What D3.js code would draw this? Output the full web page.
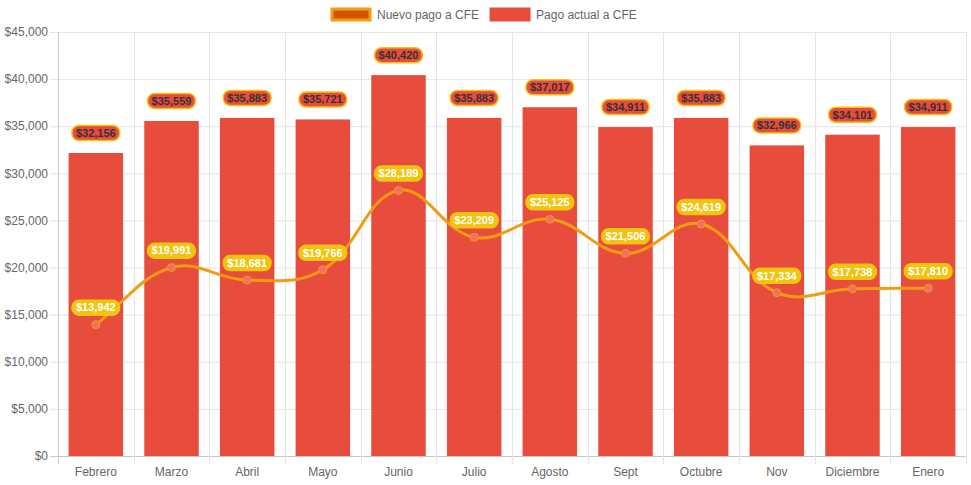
<!DOCTYPE html>
<html>
<head>
<meta charset="utf-8">
<script src="https://cdn.jsdelivr.net/npm/d3@7"></script>
<style>
  body { margin: 0; background: #fff; }
  svg { display: block; font-family: "Liberation Sans", Arial, sans-serif; }
</style>
</head>
<body>
<div id="chart"></div>
<script>
"use strict";

const months = ["Febrero", "Marzo", "Abril", "Mayo", "Junio", "Julio", "Agosto", "Sept", "Octubre", "Nov", "Diciembre", "Enero"];
const pagoActual = [32156, 35559, 35883, 35721, 40420, 35883, 37017, 34911, 35883, 32966, 34101, 34911];
const nuevoPago = [13942, 19991, 18681, 19766, 28189, 23209, 25125, 21506, 24619, 17334, 17738, 17810];
const yTicks = [0, 5000, 10000, 15000, 20000, 25000, 30000, 35000, 40000, 45000];
const legendItems = [
    { label: "Nuevo pago a CFE", fill: "#d35400", stroke: "#f39c12" },
    { label: "Pago actual a CFE", fill: "#e74c3c", stroke: "#e74c3c" }
];

const width = 971, height = 485;
const margin = { top: 32, right: 5, bottom: 29, left: 58 };

const svg = d3.select("#chart").append("svg")
    .attr("width", width)
    .attr("height", height);

const x = d3.scaleBand()
    .domain(months)
    .range([margin.left, width - margin.right]);

const y = d3.scaleLinear()
    .domain([0, 45000])
    .range([height - margin.bottom, margin.top]);

const money = v => "$" + d3.format(",")(v);

// grid lines
const grid = svg.append("g");
grid.selectAll("line.h").data(yTicks).join("line")
    .attr("x1", margin.left - 8).attr("x2", width - margin.right)
    .attr("y1", d => y(d) + 0.5).attr("y2", d => y(d) + 0.5)
    .attr("stroke", d => d === 0 ? "#c8c8c8" : "#e5e5e5");
const bounds = months.map(m => x(m)).concat([width - margin.right]);
grid.selectAll("line.v").data(bounds).join("line")
    .attr("x1", d => Math.round(d) + 0.5).attr("x2", d => Math.round(d) + 0.5)
    .attr("y1", margin.top).attr("y2", height - margin.bottom + 8)
    .attr("stroke", (d, i) => i === 0 ? "#c8c8c8" : "#e5e5e5");

// y axis labels
svg.append("g").selectAll("text").data(yTicks).join("text")
    .attr("x", margin.left - 10)
    .attr("y", d => y(d))
    .attr("dy", "0.35em")
    .attr("text-anchor", "end")
    .attr("font-size", 12)
    .attr("fill", "#666")
    .text(money);

// x axis labels
svg.append("g").selectAll("text").data(months).join("text")
    .attr("x", d => x(d) + x.bandwidth() / 2)
    .attr("y", height - margin.bottom + 20)
    .attr("text-anchor", "middle")
    .attr("font-size", 12)
    .attr("fill", "#666")
    .text(d => d);

// bars
const barW = x.bandwidth() * 0.72;
svg.append("g").selectAll("rect").data(pagoActual).join("rect")
    .attr("x", (d, i) => x(months[i]) + (x.bandwidth() - barW) / 2)
    .attr("y", d => y(d))
    .attr("width", barW)
    .attr("height", d => y(0) - y(d))
    .attr("fill", "#e74c3c");

// line (chart.js style spline, tension 0.4)
const pts = nuevoPago.map((v, i) => [x(months[i]) + x.bandwidth() / 2, y(v)]);
function splinePath(p, t) {
    const cp = p.map((cur, i) => {
        const prev = p[i - 1] || cur, next = p[i + 1] || cur;
        const d01 = Math.hypot(cur[0] - prev[0], cur[1] - prev[1]);
        const d12 = Math.hypot(next[0] - cur[0], next[1] - cur[1]);
        let s01 = d01 / (d01 + d12), s12 = d12 / (d01 + d12);
        if (isNaN(s01)) s01 = 0;
        if (isNaN(s12)) s12 = 0;
        const fa = t * s01, fb = t * s12;
        return {
            prev: [cur[0] - fa * (next[0] - prev[0]), cur[1] - fa * (next[1] - prev[1])],
            next: [cur[0] + fb * (next[0] - prev[0]), cur[1] + fb * (next[1] - prev[1])]
        };
    });
    const path = d3.path();
    path.moveTo(p[0][0], p[0][1]);
    for (let i = 1; i < p.length; i++) {
        path.bezierCurveTo(cp[i - 1].next[0], cp[i - 1].next[1], cp[i].prev[0], cp[i].prev[1], p[i][0], p[i][1]);
    }
    return path.toString();
}
svg.append("path")
    .attr("d", splinePath(pts, 0.4))
    .attr("fill", "none")
    .attr("stroke", "#f39c12")
    .attr("stroke-width", 3);

svg.append("g").selectAll("circle").data(pts).join("circle")
    .attr("cx", d => d[0]).attr("cy", d => d[1])
    .attr("r", 4)
    .attr("fill", "#f1706a")
    .attr("stroke", "#f39c12")
    .attr("stroke-width", 1);

// data labels
function addLabels(values, cyFn, bg, border, color) {
    const g = svg.append("g");
    values.forEach((v, i) => {
        const cx = x(months[i]) + x.bandwidth() / 2;
        const cy = cyFn(v);
        const lg = g.append("g");
        const txt = lg.append("text")
            .attr("x", cx).attr("y", cy)
            .attr("dy", "0.35em")
            .attr("text-anchor", "middle")
            .attr("font-size", 11)
            .attr("font-weight", "bold")
            .attr("fill", color)
            .text(money(v));
        const w = txt.node().getComputedTextLength() + 8;
        const h = 15;
        lg.insert("rect", "text")
            .attr("x", cx - w / 2).attr("y", cy - h / 2)
            .attr("width", w).attr("height", h)
            .attr("rx", 7).attr("ry", 7)
            .attr("fill", bg)
            .attr("stroke", border)
            .attr("stroke-width", 1.5);
    });
}
addLabels(pagoActual, v => y(v) - 20, "#e74c3c", "#f1c40f", "#333");
addLabels(nuevoPago, v => y(v) - 17, "#f1c40f", "#f1c40f", "#fff");

// legend
const legend = svg.append("g");
let lx = 331;
legendItems.forEach(item => {
    legend.append("rect")
        .attr("x", lx + 1).attr("y", 9)
        .attr("width", 38).attr("height", 11)
        .attr("fill", item.fill)
        .attr("stroke", item.stroke)
        .attr("stroke-width", 3);
    const t = legend.append("text")
        .attr("x", lx + 46).attr("y", 15)
        .attr("dy", "0.35em")
        .attr("font-size", 12)
        .attr("fill", "#666")
        .text(item.label);
    lx += 46 + t.node().getComputedTextLength() + 11;
});
</script>
</body>
</html>
